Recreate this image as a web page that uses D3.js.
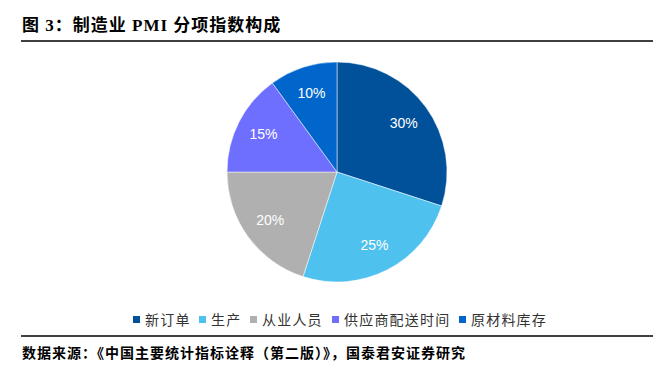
<!DOCTYPE html>
<html lang="zh">
<head>
  <meta charset="UTF-8">
  <title>制造业PMI分项指数构成</title>
  <script src="https://cdn.jsdelivr.net/npm/d3@7"></script>
  <style>
    body { margin: 0; background: #fff; }
  </style>
</head>
<body>
  <div id="container"></div>
  <script>
    // 数据
    const categories = ["新订单", "生产", "从业人员", "供应商配送时间", "原材料库存"];
    const weights = [30, 25, 20, 15, 10];
    const colors = ["#00509A", "#4FC1EF", "#B0B0B0", "#6F6FFF", "#0066CC"];

    const width = 671;
    const height = 373;
    const cx = 337, cy = 172, radius = 110;

    const svg = d3.select("#container")
      .append("svg")
      .attr("width", width)
      .attr("height", height)
      .attr("viewBox", [0, 0, width, height]);

    // 标题
    svg.append("text")
      .attr("x", 22)
      .attr("y", 31)
      .attr("font-family", "'Liberation Serif', 'Noto Sans CJK SC', serif")
      .attr("font-weight", "bold")
      .attr("font-size", 17)
      .attr("letter-spacing", 1)
      .attr("fill", "#000")
      .text("图 3：制造业 PMI 分项指数构成");

    // 上下分隔线
    svg.append("line")
      .attr("x1", 21).attr("x2", 653)
      .attr("y1", 41).attr("y2", 41)
      .attr("stroke", "#000").attr("stroke-width", 1.5);
    svg.append("line")
      .attr("x1", 21).attr("x2", 653)
      .attr("y1", 336).attr("y2", 336)
      .attr("stroke", "#000").attr("stroke-width", 1.5);

    // 饼图
    const pie = d3.pie().sort(null).value(d => d);
    const arcs = pie(weights);
    const arc = d3.arc().innerRadius(0).outerRadius(radius);
    const labelArc = d3.arc().innerRadius(radius * 0.75).outerRadius(radius * 0.75);

    const g = svg.append("g").attr("transform", `translate(${cx},${cy})`);
    g.selectAll("path")
      .data(arcs)
      .join("path")
      .attr("d", arc)
      .attr("fill", (d, i) => colors[i])
      .attr("stroke", "#fff")
      .attr("stroke-width", 0.5);

    g.selectAll("text")
      .data(arcs)
      .join("text")
      .attr("transform", d => `translate(${labelArc.centroid(d)})`)
      .attr("text-anchor", "middle")
      .attr("dy", "0.35em")
      .attr("font-family", "'Liberation Sans', Arial, sans-serif")
      .attr("font-size", 14)
      .attr("fill", "#fff")
      .text(d => d.data + "%");

    // 图例
    const legendX = [133, 199, 250, 332, 459];
    const legend = svg.append("g")
      .selectAll("g")
      .data(categories)
      .join("g")
      .attr("transform", (d, i) => `translate(${legendX[i]},320)`);
    legend.append("rect")
      .attr("x", 0).attr("y", -4)
      .attr("width", 7).attr("height", 7)
      .attr("fill", (d, i) => colors[i]);
    legend.append("text")
      .attr("x", 12)
      .attr("dy", "0.35em")
      .attr("font-family", "'Noto Sans CJK SC', sans-serif")
      .attr("font-size", 14)
      .attr("letter-spacing", 1.2)
      .attr("fill", "#333")
      .text(d => d);

    // 数据来源
    svg.append("text")
      .attr("x", 22)
      .attr("y", 358)
      .attr("font-family", "'Noto Sans CJK SC', sans-serif")
      .attr("font-weight", "bold")
      .attr("font-size", 14)
      .attr("letter-spacing", 1)
      .attr("fill", "#000")
      .text("数据来源：《中国主要统计指标诠释（第二版）》，国泰君安证券研究");
  </script>
</body>
</html>
